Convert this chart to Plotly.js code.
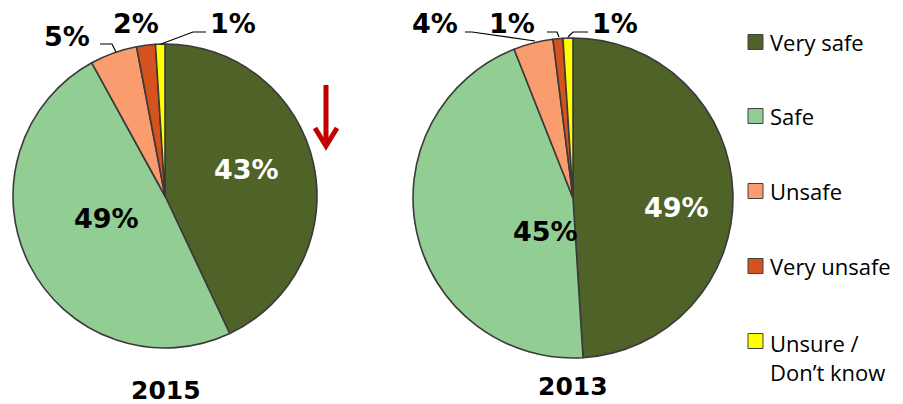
<!DOCTYPE html>
<html>
<head>
<meta charset="utf-8">
<script src="https://cdn.plot.ly/plotly-3.0.1.min.js"></script>
<style>html,body{margin:0;padding:0;background:#fff;}#chart{width:903px;height:404px;}</style>
</head>
<body>
<div id="chart"></div>
<script>
// ---- data ----
var categories = ["Very safe", "Safe", "Unsafe", "Very unsafe", "Unsure /<br>Don\u2019t know"];
var values2015 = [43, 49, 5, 2, 1];
var values2013 = [49, 45, 4, 1, 1];
var years = ["2015", "2013"];
var colors = ["#4F6228", "#92CD94", "#F99D6E", "#D5521F", "#FFFF00"];

var W = 903, H = 404;
function px(x) { return x / W; }
function py(y) { return 1 - y / H; }

var sliceLine = {color: "#3a3a3a", width: 1.6};
var labelFont = "DejaVu Sans, Verdana, sans-serif";

var traces = [
  {type: "pie", values: values2015, labels: categories, sort: false, direction: "clockwise",
   marker: {colors: colors, line: sliceLine}, textinfo: "none", hoverinfo: "label+percent",
   showlegend: false,
   domain: {x: [px(13), px(317)], y: [py(348), py(44)]}},
  {type: "pie", values: values2013, labels: categories, sort: false, direction: "clockwise",
   marker: {colors: colors, line: sliceLine}, textinfo: "none", hoverinfo: "label+percent",
   showlegend: false,
   domain: {x: [px(413), px(733)], y: [py(358), py(38)]}}
];

// percentage label positions (pixels) and colours
var labelPos2015 = [[246, 170, "#fff"], [106, 218, "#000"], [67, 37, "#000"], [136, 23, "#000"], [233, 23, "#000"]];
var labelPos2013 = [[676, 207, "#fff"], [545, 232, "#000"], [435, 23, "#000"], [512, 23, "#000"], [615, 23, "#000"]];

var annotations = [];
function addLabels(vals, pos) {
  vals.forEach(function (v, i) {
    annotations.push({xref: "paper", yref: "paper", x: px(pos[i][0]), y: py(pos[i][1]),
      xanchor: "center", yanchor: "middle", showarrow: false,
      text: "<b>" + v + "%</b>", font: {family: labelFont, size: 27, color: pos[i][2]}});
  });
}
addLabels(values2015, labelPos2015);
addLabels(values2013, labelPos2013);

// year titles
annotations.push({xref: "paper", yref: "paper", x: px(166), y: py(390), xanchor: "center", yanchor: "middle",
  showarrow: false, text: "<b>" + years[0] + "</b>", font: {family: labelFont, size: 25, color: "#000"}});
annotations.push({xref: "paper", yref: "paper", x: px(573), y: py(386), xanchor: "center", yanchor: "middle",
  showarrow: false, text: "<b>" + years[1] + "</b>", font: {family: labelFont, size: 25, color: "#000"}});

// leader lines
var shapes = [];
function poly(pts) {
  var d = "M" + pts.map(function (p) { return px(p[0]) + "," + py(p[1]); }).join(" L");
  shapes.push({type: "path", xref: "paper", yref: "paper", path: d, line: {color: "#000", width: 1.2}});
}
poly([[100, 44], [112, 44], [116, 52]]);
poly([[206, 32], [193, 32], [161, 44]]);
poly([[465, 32], [472, 32], [535, 41]]);
poly([[547, 32], [557, 32], [559, 37]]);
poly([[588, 32], [573, 32], [568, 37]]);

// red down arrow
shapes.push({type: "path", xref: "paper", yref: "paper",
  path: "M" + px(326) + "," + py(85) + " L" + px(326) + "," + py(144),
  line: {color: "#C00000", width: 5}});
shapes.push({type: "path", xref: "paper", yref: "paper",
  path: "M" + px(315) + "," + py(128) + " L" + px(326) + "," + py(146) + " L" + px(337) + "," + py(128),
  line: {color: "#C00000", width: 5}});

// legend (manual)
var legendY = [42, 116, 191, 266, 341];
categories.forEach(function (c, i) {
  var y = legendY[i];
  shapes.push({type: "rect", xref: "paper", yref: "paper",
    x0: px(748), x1: px(763), y0: py(y + 7.5), y1: py(y - 7.5),
    fillcolor: colors[i], line: {color: "#404040", width: 1}});
  var multi = c.indexOf("<br>") >= 0;
  annotations.push({xref: "paper", yref: "paper", x: px(768), y: py(multi ? y - 15 : y),
    xanchor: "left", yanchor: multi ? "top" : "middle", align: "left", showarrow: false,
    text: c, font: {family: "Open Sans, sans-serif", size: 22, color: "#000"}});
});

var layout = {
  width: W, height: H,
  margin: {l: 0, r: 0, t: 0, b: 0},
  paper_bgcolor: "#fff", plot_bgcolor: "#fff",
  showlegend: false,
  annotations: annotations,
  shapes: shapes
};

Plotly.newPlot("chart", traces, layout, {displayModeBar: false, staticPlot: true});
</script>
</body>
</html>
